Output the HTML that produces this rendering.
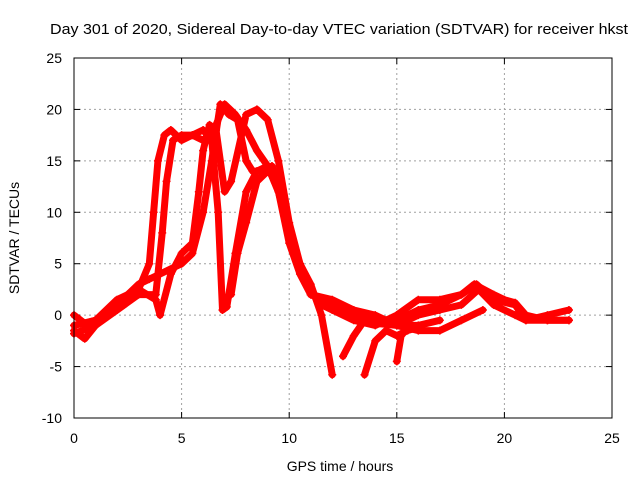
<!DOCTYPE html>
<html><head><meta charset="utf-8"><style>
body{margin:0;background:#fff}
svg{display:block;font-family:"Liberation Sans",sans-serif}
</style></head><body>
<svg id="chart" width="640" height="480">
<text x="339" y="34" text-anchor="middle" font-size="15" textLength="578" lengthAdjust="spacingAndGlyphs">Day 301 of 2020, Sidereal Day-to-day VTEC variation (SDTVAR) for receiver hkst</text>
<text x="340" y="471" text-anchor="middle" font-size="14">GPS time / hours</text>
<text transform="translate(19,238) rotate(-90)" text-anchor="middle" font-size="14">SDTVAR / TECUs</text>
<g id="grid"></g><g id="ticks"></g><g id="series"></g>
<rect x="74" y="58" width="538" height="360" fill="none" stroke="#000" stroke-width="1"/>
</svg>
<script>
const xTicks=[0,5,10,15,20,25];
const yTicks=[-10,-5,0,5,10,15,20,25];
const s1=[[0,0],[0.5,-0.8],[1,-0.5],[2,1],[3,2.5],[3.5,5],[3.7,10],[3.9,15],[4.2,17.5],[4.5,18],[5,17],[5.5,17.5],[6,17],[6.5,18],[7,20.5],[7.5,19.5],[8,18],[8.5,16],[9,14.5],[9.5,12],[10,8],[10.5,5],[11,2],[11.5,1.5],[12,1],[12.5,0.5],[13,0],[14,-0.5],[15,-0.5],[16,0.5],[17,1],[18,2],[18.7,3],[19.5,1.5],[20.5,1],[21,-0.5],[22,0],[23,0.5]];
const s2=[[0,-1.5],[0.5,-2.3],[1,-1],[2,0.5],[3,2],[3.8,2],[4.1,8],[4.3,13],[4.6,17],[5,17.5],[5.5,17.5],[6,18],[6.4,17],[6.7,10],[6.9,0.5],[7.1,0.8],[7.5,6],[8,12],[8.5,14],[9,14.5],[9.5,12],[10,7],[10.5,4],[11,2],[12,1.5],[13,0.5],[14,0],[15,-1],[16,0],[17,0.5],[18,1],[18.8,2.5],[19.5,1],[20.5,0],[21,-0.5],[22,-0.5],[23,-0.5]];
const s3=[[0,-1],[1,-0.5],[2,1.5],[3,2.5],[3.8,1.5],[4,0],[4.5,4],[5,6],[5.5,7],[5.8,12],[6,16],[6.3,18.5],[6.6,18],[7,12],[7.3,13],[8,19.5],[8.5,20],[9,19],[9.5,15],[10,9],[10.5,5],[11,3],[11.5,0],[12,-5.8]];
const s4=[[0,-1.8],[1,-1],[2,1],[3,3],[3.5,3.5],[4,4],[5,5],[5.5,6],[6,10],[6.4,15],[6.8,20.5],[7.2,19.5],[7.6,19],[8,15],[8.3,14],[8.7,14],[9.2,14.5],[9.6,12],[10,8],[10.5,5],[11,2.5],[11.5,1],[12,0.5],[13,-0.5],[14,-1],[14.5,-0.5],[15,0],[16,1.5],[17,1.5],[18,2],[18.6,3],[19.5,2],[20,1.5],[20.5,1.2],[21,0],[22,-0.5],[23,-0.5]];
const s5=[[7.3,2],[7.6,6],[8,9],[8.5,13],[9,14],[9.5,13]];
const s6=[[12.5,-4],[13,-2],[13.5,-0.5],[14,-0.8],[15,-1],[16,-1.5],[17,-1.5],[18,-0.5],[19,0.5]];
const s7=[[13.5,-5.8],[14,-2.5],[14.5,-1.5],[15,-2],[15.5,-1.5],[16,-1.2]];
const s8=[[15,-4.5],[15.2,-2],[15.6,-1],[16,-1],[17,-0.5]];
const allSeries=[s1,s2,s3,s4,s5,s6,s7,s8];
const NS="http://www.w3.org/2000/svg";
const X0=74,X1=612,Y0=418,Y1=58;
const sx=v=>X0+(v-0)/(25-0)*(X1-X0);
const sy=v=>Y0-(v+10)/35*(Y0-Y1);
function mk(t,a){const e=document.createElementNS(NS,t);for(const k in a)e.setAttribute(k,a[k]);return e;}
const grid=document.getElementById('grid'),ticks=document.getElementById('ticks'),ser=document.getElementById('series');
xTicks.forEach(v=>{const x=sx(v);
 if(v>0&&v<25){const l=mk('line',{x1:x,x2:x,y1:Y1,y2:Y0,stroke:'#a0a0a0','stroke-dasharray':'2,3'});
 
 grid.appendChild(l);}
 const t=mk('line',{x1:x,x2:x,y1:Y0,y2:Y0-6,stroke:'#000'});ticks.appendChild(t);
 const t2=mk('line',{x1:x,x2:x,y1:Y1,y2:Y1+6,stroke:'#000'});ticks.appendChild(t2);
 const tx=mk('text',{x:x,y:443,'text-anchor':'middle','font-size':'14'});tx.textContent=v;
 
 ticks.appendChild(tx);});
yTicks.forEach(v=>{const y=sy(v);
 if(v>-10&&v<25){const l=mk('line',{x1:X0,x2:X1,y1:y,y2:y,stroke:'#a0a0a0','stroke-dasharray':'2,3'});
 
 grid.appendChild(l);}
 ticks.appendChild(mk('line',{x1:X0,x2:X0+6,y1:y,y2:y,stroke:'#000'}));
 ticks.appendChild(mk('line',{x1:X1,x2:X1-6,y1:y,y2:y,stroke:'#000'}));
 const tx=mk('text',{x:62,y:y+5,'text-anchor':'end','font-size':'14'});tx.textContent=v;
 
 ticks.appendChild(tx);});
allSeries.forEach((s,i)=>{
 const pts=s.map(p=>sx(p[0])+','+sy(p[1])).join(' ');
 const pl=mk('polyline',{points:pts,fill:'none',stroke:'#ff0000','stroke-width':'7','stroke-linejoin':'round','stroke-linecap':'round'});
 
 ser.appendChild(pl);
 s.forEach(p=>{const x=sx(p[0]),y=sy(p[1]);
  const m=mk('path',{d:`M${x-4},${y}H${x+4}M${x},${y-4}V${y+4}`,stroke:'#ff0000','stroke-width':'1.5'});
  
  ser.appendChild(m);});
});
</script>
</body></html>
